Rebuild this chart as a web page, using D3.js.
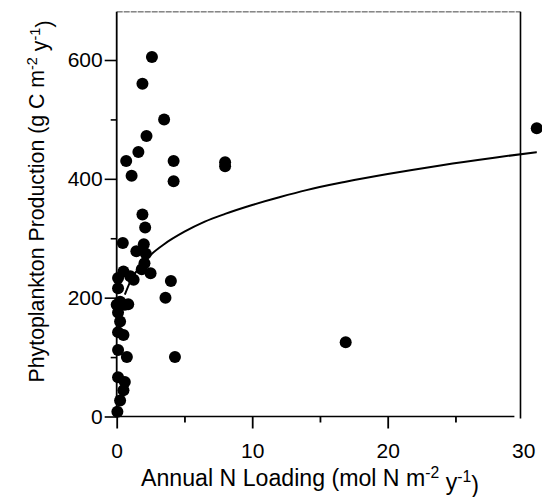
<!DOCTYPE html>
<html>
<head>
<meta charset="utf-8">
<script src="https://cdn.jsdelivr.net/npm/d3@7"></script>
<style>
  html, body { margin: 0; padding: 0; background: #fff; }
  svg { display: block; font-family: "Liberation Sans", Arial, Helvetica, sans-serif; }
</style>
</head>
<body>
<div id="chart"></div>
<script>
// ---- data ----
const loadingN = [2.6, 1.9, 3.5, 2.2, 1.6, 0.7, 4.2, 1.1, 4.2, 1.9, 2.1, 0.45, 2.0, 1.45, 2.15, 2.05, 1.85, 2.5, 0.5, 0.1,
                  1.25, 1.0, 4.0, 0.1, 3.6, 0.25, 0.85, 0.0, 0.6, 0.1, 0.25, 0.1, 0.5, 0.1, 0.75, 4.3, 0.1, 0.6, 0.5, 0.25,
                  0.05, 8.0, 8.0, 16.9, 31.0];
const production = [605, 560, 500, 472, 445, 430, 430, 405, 396, 340, 318, 292, 290, 278, 274, 258, 248, 241, 244, 233,
                    230, 236, 228, 216, 200, 193, 189, 188, 188, 175, 160, 142, 137, 112, 100, 100, 66, 58, 44, 27,
                    8, 428, 421, 125, 485];
const fitX = [0.6, 1, 1.5, 2, 2.6, 3.5, 5, 6.5, 8, 10, 12, 14, 16.9, 20, 24, 28, 31];
const fitY = [205, 227, 246, 260, 274, 290, 311, 328, 341, 356, 369, 381, 395, 408, 423, 436, 445];
const xTicks = [0, 5, 10, 15, 20, 25, 30];
const xTickLabels = ["0", "", "10", "", "20", "", "30"];
const yTicks = [0, 100, 200, 300, 400, 500, 600];
const yTickLabels = ["0", "", "200", "", "400", "", "600"];

const W = 542, H = 497;
const svg = d3.select("#chart").append("svg").attr("width", W).attr("height", H);

const x = d3.scaleLinear().domain([0, 30]).range([116.7, 523.2]);
const y = d3.scaleLinear().domain([0, 600]).range([416.5, 60]);
const yTop = 681;

// frame (top and right)
svg.append("line").attr("x1", x(0)).attr("x2", x(29.8)).attr("y1", y(yTop)).attr("y2", y(yTop))
  .attr("stroke", "#444").attr("stroke-width", 1).attr("stroke-dasharray", "6,1");
svg.append("line").attr("x1", x(29.8)).attr("x2", x(29.8)).attr("y1", y(yTop)).attr("y2", y(0) + 2)
  .attr("stroke", "#000").attr("stroke-width", 1.6);

// x axis
const xAxis = d3.axisBottom(x).tickValues(xTicks)
  .tickFormat((d, i) => xTickLabels[i]).tickSizeOuter(0).tickPadding(21);
const gx = svg.append("g").attr("transform", `translate(0,${y(0)})`).call(xAxis);
gx.select(".domain").remove();
gx.append("line").attr("x1", x(0)).attr("x2", x(29.35)).attr("y1", 0).attr("y2", 0)
  .attr("stroke", "#000").attr("stroke-width", 1.6);
gx.selectAll(".tick line")
  .attr("y2", (d, i) => d === 30 ? 0 : (xTickLabels[i] ? 12 : 6))
  .attr("stroke-width", 1.8);
gx.selectAll(".tick text").attr("font-size", 21).attr("fill", "#000")
  .attr("font-family", "Liberation Sans, Arial, sans-serif");

// y axis
const yAxis = d3.axisLeft(y).tickValues(yTicks)
  .tickFormat((d, i) => yTickLabels[i]).tickSizeOuter(0).tickPadding(8);
const gy = svg.append("g").attr("transform", `translate(${x(0)},0)`).call(yAxis);
gy.select(".domain").remove();
gy.append("line").attr("x1", 0).attr("x2", 0).attr("y1", y(yTop)).attr("y2", y(0))
  .attr("stroke", "#000").attr("stroke-width", 1.8);
gy.selectAll(".tick line")
  .attr("x2", (d, i) => yTickLabels[i] ? -12 : -6)
  .attr("stroke-width", 1.6);
gy.selectAll(".tick text").attr("font-size", 21).attr("fill", "#000")
  .attr("font-family", "Liberation Sans, Arial, sans-serif");

// fitted curve
const line = d3.line().x((d, i) => x(fitX[i])).y((d, i) => y(fitY[i])).curve(d3.curveMonotoneX);
svg.append("path").datum(fitX).attr("d", line)
  .attr("fill", "none").attr("stroke", "#000").attr("stroke-width", 2);

// points
svg.append("g").selectAll("circle").data(loadingN).join("circle")
  .attr("cx", d => x(d)).attr("cy", (d, i) => y(production[i])).attr("r", 6)
  .attr("fill", "#000");

// axis titles (with superscripts), squeezed horizontally to the reference width
function title(g, main, size, width) {
  const t = g.append("text").attr("text-anchor", "middle").attr("font-size", size).attr("fill", "#000");
  t.append("tspan").text(main);
  t.append("tspan").text("-2").attr("font-size", "0.68em").attr("dy", "-0.5em");
  t.append("tspan").text(" y").attr("dy", "0.5em");
  t.append("tspan").text("-1").attr("font-size", "0.68em").attr("dy", "-0.5em");
  t.append("tspan").text(")").attr("dy", "0.5em");
  const w = t.node().getComputedTextLength();
  t.attr("transform", `scale(${width / w},1)`);
  return t;
}
const gxl = svg.append("g").attr("transform", "translate(310,486)");
title(gxl, "Annual N Loading (mol N m", 23, 338);

const gyl = svg.append("g").attr("transform", "translate(44,201.5) rotate(-90)");
title(gyl, "Phytoplankton Production (g C m", 21.3, 362);
</script>
</body>
</html>
